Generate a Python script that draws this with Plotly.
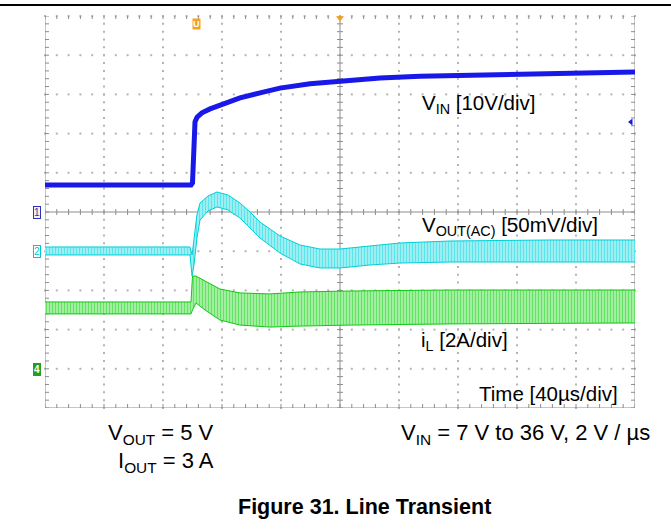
"""Line transient scope capture: VIN step, VOUT(AC) response and inductor current."""

import numpy as np
import plotly.graph_objects as go

# time base: 40 us/div, 10 divisions
# VIN (ch1, 10 V/div, ref at 0 div)
vin_t = [0, 99, 100, 100.3, 101, 101.7, 103.1, 106.4, 111.9, 118.6, 132.2, 145.8,
         159.3, 179.7, 200, 227.1, 254.2, 281.4, 308.5, 342.4, 376.3, 400]
vin_v = [6.9, 6.9, 7.4, 10.7, 17.1, 23.0, 24.2, 25.3, 26.3, 27.3, 29.1, 30.4,
         31.6, 32.7, 33.4, 34.2, 34.6, 34.8, 35.1, 35.3, 35.6, 35.7]

# VOUT AC (ch2, 50 mV/div, ref at -1 div) - ripple envelope
vout_t = [0, 98.3, 99.7, 101, 103, 105.1, 110.5, 116.6, 124.1, 132.2, 139, 145.8,
          159.3, 172.9, 186.4, 200, 220.3, 240.7, 274.6, 342.4, 400]
vout_hi_mv = [5.4, 5.4, -4.8, 14.3, 46.2, 61.5, 70.4, 75.5, 71.7, 61.5, 50.0, 37.2,
              19.4, 7.9, 2.8, 2.8, 6.6, 10.5, 13.0, 14.3, 14.3]
vout_lo_mv = [-4.8, -4.8, -31.6, -17.6, 16.8, 39.8, 51.3, 56.4, 52.6, 42.3, 29.6, 16.8,
              -2.3, -16.3, -21.4, -21.4, -17.6, -15.1, -13.8, -13.8, -13.8]

# iL (ch4, 2 A/div, ref at -4 div) - ripple envelope
il_t = [0, 99, 100, 102.4, 108.5, 118.6, 132.2, 152.5, 172.9, 206.8, 274.6, 400]
il_hi_a = [3.41, 3.41, 4.73, 4.73, 4.48, 4.07, 3.87, 3.82, 3.92, 3.97, 4.02, 4.02]
il_lo_a = [2.80, 2.80, 3.00, 3.36, 3.00, 2.49, 2.23, 2.13, 2.18, 2.23, 2.29, 2.34]

W, H = 671, 529
L, R, T, B = 45, 36, 16, 121
PW, PH = W - L - R, H - T - B
XMAX, YDIV = 400, 5
px_x = XMAX / PW           # us per pixel
px_y = 2 * YDIV / PH       # div per pixel
FONT = "Arial, Liberation Sans, sans-serif"


def to_div(vals, scale, ref):
    return [v / scale + ref for v in vals]


def xp(px):
    return (px - L) / PW


def yp(py):
    return (H - B - py) / PH


fig = go.Figure()

# grid dots
minor_x = np.arange(0, XMAX + 0.01, 8)
minor_y = np.arange(-YDIV, YDIV + 0.01, 0.2)
gx, gy = [], []
for k in range(1, 10):
    if k == 5:
        continue
    gx += [40 * k] * len(minor_y)
    gy += list(minor_y)
for k in list(range(-4, 5)) + [5]:
    if k == 0:
        continue
    gx += list(minor_x)
    gy += [k] * len(minor_x)
fig.add_trace(go.Scatter(x=gx, y=gy, mode="markers", hoverinfo="skip",
                         marker=dict(symbol="square", size=2, color="#b4b4b4"),
                         cliponaxis=False))

# solid frame and centre cross with minor ticks
sx, sy = [], []
for x0, y0, x1, y1 in [(0, -5, 0, 5), (400, -5, 400, 5), (0, -5, 400, -5),
                       (200, -5, 200, 5), (0, 0, 400, 0)]:
    sx += [x0, x1, None]
    sy += [y0, y1, None]
for x in minor_x:
    sx += [x, x, None]
    sy += [-3 * px_y, 3 * px_y, None]
    sx += [x, x, None]
    sy += [-5, -5 + 4 * px_y, None]
    sx += [x, x, None]
    sy += [5, 5 - 3 * px_y, None]
for y in minor_y:
    sx += [200 - 3 * px_x, 200 + 3 * px_x, None]
    sy += [y, y, None]
    sx += [0, 4 * px_x, None]
    sy += [y, y, None]
    sx += [400 - 4 * px_x, 400, None]
    sy += [y, y, None]
fig.add_trace(go.Scatter(x=sx, y=sy, mode="lines", hoverinfo="skip",
                         line=dict(color="#8c8c8c", width=1), cliponaxis=False))

# iL band
fig.add_trace(go.Scatter(x=il_t, y=to_div(il_lo_a, 2, -4), mode="lines",
                         line=dict(color="#10c810", width=1), hoverinfo="skip"))
fig.add_trace(go.Scatter(x=il_t, y=to_div(il_hi_a, 2, -4), mode="lines",
                         line=dict(color="#10c810", width=1), fill="tonexty",
                         fillpattern=dict(shape="|", size=3, solidity=0.5,
                                          fgcolor="#12d212", bgcolor="#b6f3b6"),
                         hoverinfo="skip"))

# VOUT band
fig.add_trace(go.Scatter(x=vout_t, y=to_div(vout_lo_mv, 50, -1), mode="lines",
                         line=dict(color="#00cfd8", width=1), hoverinfo="skip"))
fig.add_trace(go.Scatter(x=vout_t, y=to_div(vout_hi_mv, 50, -1), mode="lines",
                         line=dict(color="#00cfd8", width=1), fill="tonexty",
                         fillpattern=dict(shape="|", size=3, solidity=0.5,
                                          fgcolor="#00d8e2", bgcolor="#b4f1f4"),
                         hoverinfo="skip"))

# VIN
fig.add_trace(go.Scatter(x=vin_t, y=to_div(vin_v, 10, 0), mode="lines",
                         line=dict(color="#1818e8", width=5), hoverinfo="skip"))

# trigger / reference markers
fig.add_trace(go.Scatter(x=[200], y=[5 - 2 * px_y], mode="markers", hoverinfo="skip",
                         marker=dict(symbol="triangle-down", size=7, color="#f5a020"),
                         cliponaxis=False))
fig.add_trace(go.Scatter(x=[XMAX - 4 * px_x], y=[(212 - 122) / 39.2], mode="markers",
                         hoverinfo="skip", cliponaxis=False,
                         marker=dict(symbol="triangle-left", size=6, color="#1818e8")))

annotations = [
    dict(x=xp(196), y=yp(24), text="<b>U</b>", font=dict(size=9, color="white", family=FONT),
         bgcolor="#f5a020", borderpad=0),
    dict(x=xp(37), y=yp(212), text="1", font=dict(size=10, color="#3030c0", family=FONT),
         bgcolor="#f4f4e0", bordercolor="#3030c0", borderwidth=1, borderpad=0),
    dict(x=xp(37), y=yp(251), text="2", font=dict(size=10, color="#00c8d0", family=FONT),
         bgcolor="white", bordercolor="#00c8d0", borderwidth=1, borderpad=0),
    dict(x=xp(37), y=yp(369), text="<b>4</b>", font=dict(size=10, color="white", family=FONT),
         bgcolor="#20a020", bordercolor="#20a020", borderwidth=1, borderpad=0),
    dict(x=xp(420), y=yp(104), xanchor="left", text="V<sub>IN</sub> [10V/div]",
         font=dict(size=20.5, color="black", family=FONT)),
    dict(x=xp(420), y=yp(226), xanchor="left", text="V<sub>OUT(AC)</sub> [50mV/div]",
         font=dict(size=20.5, color="black", family=FONT)),
    dict(x=xp(419), y=yp(341), xanchor="left", text="i<sub>L</sub> [2A/div]",
         font=dict(size=20.5, color="black", family=FONT)),
    dict(x=xp(620), y=yp(393), xanchor="right", text="Time [40µs/div]",
         font=dict(size=20.5, color="black", family=FONT)),
    dict(x=xp(216), y=yp(434), xanchor="right", text="V<sub>OUT</sub> = 5 V",
         font=dict(size=22, color="black", family=FONT)),
    dict(x=xp(216), y=yp(462), xanchor="right", text="I<sub>OUT</sub> = 3 A",
         font=dict(size=22, color="black", family=FONT)),
    dict(x=xp(399), y=yp(434), xanchor="left", text="V<sub>IN</sub> = 7 V to 36 V, 2 V / µs",
         font=dict(size=22, color="black", family=FONT)),
    dict(x=xp(364), y=yp(507), text="<b>Figure 31. Line Transient</b>",
         font=dict(size=21.5, color="black", family=FONT)),
]
for a in annotations:
    a.update(xref="paper", yref="paper", showarrow=False)
    a.setdefault("xanchor", "center")
    a.setdefault("yanchor", "middle")

fig.update_layout(
    width=W, height=H,
    margin=dict(l=L, r=R, t=T, b=B),
    paper_bgcolor="white", plot_bgcolor="white",
    showlegend=False,
    annotations=annotations,
    shapes=[dict(type="line", xref="paper", yref="paper", x0=xp(0), x1=xp(W),
                 y0=yp(5), y1=yp(5), line=dict(color="black", width=2))],
    xaxis=dict(range=[0, XMAX], visible=False, fixedrange=True),
    yaxis=dict(range=[-YDIV, YDIV], visible=False, fixedrange=True),
)

# page body has a default 8px margin; drop it so the figure sits at the window origin
fig.write_html("out.html", config={"displayModeBar": False},
               post_script="document.body.style.margin='0';")
